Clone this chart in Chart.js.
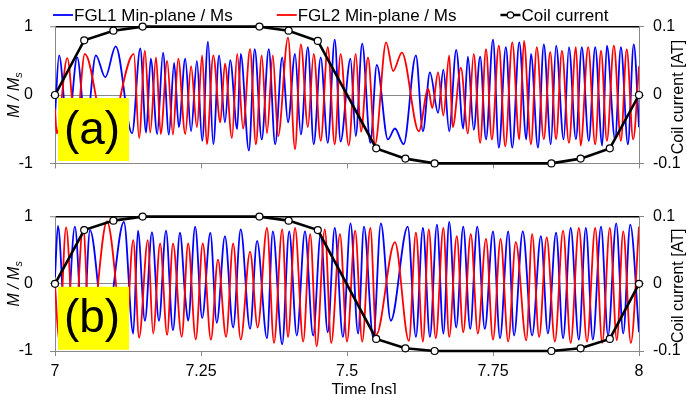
<!DOCTYPE html>
<html>
<head>
<meta charset="utf-8">
<script src="https://cdn.jsdelivr.net/npm/chart.js@4.4.1/dist/chart.umd.min.js"></script>
<style>
  html, body { margin: 0; padding: 0; background: #fff; }
  #wrap { position: relative; width: 687px; height: 394px; overflow: hidden; }
  canvas { position: absolute; left: 0; }
  #chartA { top: 0; }
  #chartB { top: 190px; }
</style>
</head>
<body>
<div id="wrap">
  <canvas id="chartA" width="687" height="190"></canvas>
  <canvas id="chartB" width="687" height="204"></canvas>
</div>
<script>
// Coil current (AT), same sampling in both panels
const coilT = [7, 7.05, 7.1, 7.15, 7.35, 7.4, 7.45, 7.55, 7.6, 7.65, 7.85, 7.9, 7.95, 8];
const coilA = [0, 0.080, 0.094, 0.1, 0.1, 0.094, 0.079, -0.078, -0.093, -0.1, -0.1, -0.093, -0.078, 0];
const coilB = [0, 0.080, 0.094, 0.1, 0.1, 0.094, 0.080, -0.082, -0.096, -0.1, -0.1, -0.096, -0.082, 0];

// Panel (a): turning points of M/Ms (time in ns)
const fgl1aT = [7.000, 7.007, 7.022, 7.038, 7.053, 7.070, 7.086, 7.104, 7.132, 7.146, 7.156, 7.164, 7.175, 7.185, 7.195, 7.204, 7.212, 7.223, 7.233, 7.243, 7.252, 7.262, 7.271, 7.281, 7.291, 7.300, 7.312, 7.318, 7.332, 7.342, 7.354, 7.366, 7.377, 7.389, 7.399, 7.411, 7.421, 7.433, 7.443, 7.455, 7.467, 7.479, 7.489, 7.506, 7.515, 7.526, 7.540, 7.551, 7.570, 7.582, 7.597, 7.618, 7.630, 7.642, 7.656, 7.665, 7.675, 7.687, 7.699, 7.707, 7.717, 7.728, 7.738, 7.750, 7.760, 7.772, 7.783, 7.795, 7.807, 7.815, 7.827, 7.837, 7.849, 7.858, 7.871, 7.880, 7.892, 7.902, 7.914, 7.925, 7.937, 7.945, 7.959, 7.969, 7.981, 7.991, 8.000];
const fgl1aM = [-0.30, 0.58, -0.55, 0.55, -0.50, 0.58, 0.26, 0.71, -0.56, 0.68, -0.55, 0.53, -0.57, 0.62, -0.58, 0.47, -0.47, 0.53, -0.53, 0.50, -0.67, 0.78, -0.72, 0.58, -0.40, 0.51, -0.50, 0.60, -0.81, 0.67, -0.65, 0.67, -0.72, 0.55, -0.40, 0.60, -0.58, 0.70, -0.72, 0.55, -0.70, 0.81, -0.68, 0.53, -0.60, 0.75, -0.70, 0.44, -0.65, -0.49, -0.72, 0.58, -0.53, 0.33, -0.26, 0.37, -0.53, 0.66, -0.49, 0.56, -0.51, 0.56, -0.65, 0.81, -0.77, 0.70, -0.77, 0.77, -0.65, 0.60, -0.77, 0.74, -0.72, 0.72, -0.65, 0.70, -0.65, 0.70, -0.67, 0.70, -0.74, 0.72, -0.65, 0.70, -0.72, 0.74, -0.47];

const fgl2aT = [7.000, 7.003, 7.021, 7.036, 7.051, 7.089, 7.135, 7.144, 7.154, 7.163, 7.173, 7.181, 7.192, 7.202, 7.211, 7.223, 7.233, 7.243, 7.252, 7.260, 7.271, 7.283, 7.291, 7.303, 7.312, 7.322, 7.334, 7.344, 7.354, 7.363, 7.373, 7.382, 7.399, 7.411, 7.421, 7.433, 7.443, 7.455, 7.467, 7.479, 7.489, 7.503, 7.515, 7.524, 7.536, 7.548, 7.567, 7.579, 7.594, 7.623, 7.639, 7.646, 7.656, 7.665, 7.675, 7.681, 7.695, 7.707, 7.717, 7.728, 7.738, 7.748, 7.760, 7.771, 7.783, 7.795, 7.803, 7.815, 7.825, 7.837, 7.848, 7.858, 7.868, 7.880, 7.892, 7.900, 7.913, 7.925, 7.935, 7.945, 7.957, 7.969, 7.979, 7.990, 8.000];
const fgl2aM = [-0.20, -0.56, 0.54, -0.55, 0.60, -0.65, 0.60, -0.63, 0.65, -0.55, 0.55, -0.57, 0.50, -0.58, 0.53, -0.57, 0.42, -0.47, 0.58, -0.72, 0.58, -0.40, 0.46, -0.63, 0.60, -0.49, 0.67, -0.72, 0.58, -0.56, 0.58, -0.60, 0.84, -0.79, 0.74, -0.47, 0.60, -0.67, 0.70, -0.72, 0.60, -0.74, 0.60, -0.54, 0.55, -0.72, 0.77, 0.35, 0.62, -0.53, 0.09, -0.19, 0.33, -0.30, 0.58, -0.47, 0.40, -0.56, 0.60, -0.70, 0.67, -0.65, 0.72, -0.75, 0.77, -0.65, 0.79, -0.72, 0.70, -0.65, 0.63, -0.65, 0.65, -0.70, 0.70, -0.74, 0.70, -0.72, 0.65, -0.67, 0.72, -0.67, 0.67, -0.65, 0.42];

// Panel (b)
const fgl1bT = [7.000, 7.005, 7.019, 7.034, 7.048, 7.060, 7.086, 7.118, 7.134, 7.142, 7.154, 7.166, 7.178, 7.190, 7.202, 7.214, 7.223, 7.228, 7.240, 7.252, 7.266, 7.277, 7.291, 7.305, 7.318, 7.334, 7.346, 7.363, 7.373, 7.389, 7.401, 7.414, 7.428, 7.442, 7.455, 7.467, 7.479, 7.493, 7.506, 7.519, 7.529, 7.545, 7.558, 7.575, 7.604, 7.618, 7.630, 7.642, 7.654, 7.665, 7.675, 7.687, 7.699, 7.711, 7.723, 7.736, 7.750, 7.762, 7.776, 7.786, 7.801, 7.817, 7.832, 7.844, 7.858, 7.870, 7.883, 7.897, 7.909, 7.921, 7.935, 7.947, 7.961, 7.973, 7.985, 8.000];
const fgl1bM = [0.10, 0.86, -0.80, 0.85, -0.80, 0.80, -0.75, 0.92, -0.74, 0.79, -0.55, 0.77, -0.55, 0.79, -0.69, 0.76, -0.20, -0.55, 0.85, -0.51, 0.76, -0.58, 0.71, -0.65, 0.81, -0.67, 0.64, -0.81, 0.78, -0.90, 0.78, -0.77, 0.78, -0.77, 0.74, -0.72, 0.83, -0.79, 0.90, -0.74, 0.85, -0.81, 0.90, -0.55, 0.85, -0.79, 0.83, -0.79, 0.88, -0.74, 0.92, -0.65, 0.85, -0.67, 0.85, -0.67, 0.78, -0.81, 0.78, -0.77, 0.78, -0.77, 0.71, -0.74, 0.76, -0.81, 0.83, -0.83, 0.83, -0.83, 0.85, -0.77, 0.90, -0.74, 0.88, -0.72];

const fgl2bT = [7.000, 7.007, 7.019, 7.033, 7.048, 7.060, 7.089, 7.120, 7.134, 7.144, 7.159, 7.168, 7.180, 7.192, 7.202, 7.217, 7.228, 7.241, 7.253, 7.267, 7.279, 7.293, 7.305, 7.318, 7.334, 7.347, 7.363, 7.375, 7.389, 7.399, 7.411, 7.425, 7.437, 7.448, 7.462, 7.473, 7.488, 7.500, 7.514, 7.526, 7.540, 7.550, 7.582, 7.606, 7.618, 7.630, 7.640, 7.652, 7.665, 7.675, 7.688, 7.699, 7.712, 7.724, 7.738, 7.750, 7.763, 7.776, 7.789, 7.807, 7.817, 7.829, 7.842, 7.856, 7.870, 7.883, 7.897, 7.911, 7.925, 7.937, 7.950, 7.962, 7.973, 7.986, 8.000];
const fgl2bM = [0.00, -0.85, 0.84, -0.85, 0.85, -0.80, 0.93, -0.95, 0.65, -0.80, 0.65, -0.74, 0.60, -0.76, 0.60, -0.79, 0.60, -0.83, 0.60, -0.83, 0.36, -0.79, 0.60, -0.83, 0.48, -0.65, 0.83, -0.88, 0.81, -0.79, 0.83, -0.86, 0.74, -0.93, 0.81, -0.88, 0.74, -0.86, 0.79, -0.86, 0.83, -0.76, 0.62, -0.85, 0.76, -0.86, 0.81, -0.81, 0.83, -0.79, 0.71, -0.72, 0.74, -0.74, 0.67, -0.83, 0.67, -0.86, 0.62, -0.84, 0.74, -0.79, 0.69, -0.86, 0.79, -0.88, 0.83, -0.86, 0.83, -0.88, 0.83, -0.84, 0.78, -0.88, 0.85];

const seriesLabels = ["FGL1 Min-plane / Ms", "FGL2 Min-plane / Ms", "Coil current"];

const FONT = '"Liberation Sans", Arial, sans-serif';
Chart.defaults.font.family = FONT;
Chart.defaults.font.size = 16;
Chart.defaults.color = "#000";

function pairs(ts, vs) {
    return ts.map((t, i) => ({ x: t, y: vs[i] }));
}

// yellow tag, axis titles and (for the top panel) the legend
function decorPlugin(tag, showLegend, showTime) {
    return {
        id: "decor",
        afterDatasetDraw(chart, args) {
            if (args.index !== 1) return;  // after the red trace, before coil current
            const ctx = chart.ctx;
            const area = chart.chartArea;
            const y0 = chart.scales.y.getPixelForValue(0);
            ctx.save();
            ctx.fillStyle = "#ffff00";
            ctx.fillRect(area.left + 3, y0 + 3, 71, 63);
            ctx.fillStyle = "#000";
            ctx.font = "46px " + FONT;
            ctx.textAlign = "center";
            ctx.textBaseline = "middle";
            ctx.fillText("(" + tag + ")", area.left + 37, y0 + 36);
            ctx.restore();
        },
        afterDraw(chart) {
            const ctx = chart.ctx;
            const y0 = chart.scales.y.getPixelForValue(0);

            // left title: M / Ms
            ctx.save();
            ctx.fillStyle = "#000";
            ctx.translate(15, y0);
            ctx.rotate(-Math.PI / 2);
            ctx.font = "italic 16px " + FONT;
            const main = "M / M";
            const w1 = ctx.measureText(main).width;
            ctx.font = "italic 11px " + FONT;
            const w2 = ctx.measureText("s").width;
            const x = -(w1 + w2) / 2;
            ctx.textBaseline = "middle";
            ctx.textAlign = "left";
            ctx.font = "italic 16px " + FONT;
            ctx.fillText(main, x, 0);
            ctx.font = "italic 11px " + FONT;
            ctx.fillText("s", x + w1, 4);
            ctx.restore();

            // right title
            ctx.save();
            ctx.fillStyle = "#000";
            ctx.translate(679, y0 + 2);
            ctx.rotate(-Math.PI / 2);
            ctx.font = "16px " + FONT;
            ctx.textAlign = "center";
            ctx.textBaseline = "middle";
            ctx.fillText("Coil current [AT]", 0, 0);
            ctx.restore();

            if (showTime) {
                ctx.save();
                ctx.fillStyle = "#000";
                ctx.font = "16px " + FONT;
                ctx.textAlign = "center";
                ctx.textBaseline = "alphabetic";
                ctx.fillText("Time [ns]", 364, 204.5);
                ctx.restore();
            }

            if (showLegend) {
                const colors = ["#0000ff", "#ff0000", "#000"];
                ctx.save();
                ctx.font = "17px " + FONT;
                ctx.textBaseline = "middle";
                ctx.textAlign = "left";
                let lx = 53;
                seriesLabels.forEach((label, i) => {
                    ctx.strokeStyle = colors[i];
                    ctx.lineWidth = i === 2 ? 2.5 : 1.8;
                    ctx.beginPath();
                    ctx.moveTo(lx, 15);
                    ctx.lineTo(lx + 20, 15);
                    ctx.stroke();
                    if (i === 2) {
                        ctx.beginPath();
                        ctx.arc(lx + 10, 15, 3.2, 0, Math.PI * 2);
                        ctx.fillStyle = "#fff";
                        ctx.fill();
                        ctx.lineWidth = 1.2;
                        ctx.stroke();
                    }
                    ctx.fillStyle = "#000";
                    ctx.fillText(label, lx + 21, 16);
                    lx += 21 + ctx.measureText(label).width + 44;
                });
                ctx.restore();
            }
        }
    };
}

function buildPanel(id, cfg) {
    return new Chart(document.getElementById(id), {
        type: "line",
        data: {
            datasets: [
                {
                    label: seriesLabels[2],
                    data: pairs(coilT, cfg.coil),
                    yAxisID: "y1",
                    borderColor: "#000",
                    borderWidth: 2.6,
                    pointRadius: 3.5,
                    pointBackgroundColor: "#fff",
                    pointBorderColor: "#000",
                    pointBorderWidth: 1.2,
                    tension: 0,
                    clip: false,
                    order: 0
                },
                {
                    label: seriesLabels[1],
                    data: pairs(cfg.t2, cfg.m2),
                    yAxisID: "y",
                    borderColor: "#ff0000",
                    borderWidth: 1.8,
                    pointRadius: 0,
                    cubicInterpolationMode: "monotone",
                    order: 1
                },
                {
                    label: seriesLabels[0],
                    data: pairs(cfg.t1, cfg.m1),
                    yAxisID: "y",
                    borderColor: "#0000ff",
                    borderWidth: 1.8,
                    pointRadius: 0,
                    cubicInterpolationMode: "monotone",
                    order: 2
                }
            ]
        },
        options: {
            responsive: false,
            animation: false,
            events: [],
            layout: { padding: { top: cfg.padTop, left: 0, right: 0, bottom: 0 } },
            plugins: { legend: { display: false }, tooltip: { enabled: false } },
            scales: {
                x: {
                    type: "linear",
                    min: 7,
                    max: 8,
                    afterFit: s => { s.height = cfg.xHeight; },
                    grid: { drawOnChartArea: false, drawTicks: true, tickLength: 5, color: "#888" },
                    border: { color: "#888", width: 1 },
                    ticks: {
                        display: cfg.showX,
                        stepSize: 0.25,
                        padding: 6,
                        maxRotation: 0,
                        callback: v => String(v)
                    }
                },
                y: {
                    position: "left",
                    min: -1,
                    max: 1,
                    afterFit: s => { s.width = 55; },
                    grid: {
                        color: c => (c.tick && c.tick.value === 1 ? "#000" : "#888"),
                        lineWidth: c => (c.tick && c.tick.value === 1 ? 1.5 : 1),
                        tickColor: "#888",
                        tickWidth: 1,
                        tickLength: 5
                    },
                    border: { color: "#888", width: 1 },
                    ticks: { stepSize: 1, padding: 17 }
                },
                y1: {
                    position: "right",
                    min: -0.1,
                    max: 0.1,
                    afterFit: s => { s.width = 48; },
                    grid: { drawOnChartArea: false, tickLength: 5, color: "#888" },
                    border: { color: "#888", width: 1 },
                    ticks: {
                        stepSize: 0.1,
                        padding: 9,
                        callback: v => (Math.abs(v) < 1e-9 ? "0" : v.toFixed(1))
                    }
                }
            }
        },
        plugins: [decorPlugin(cfg.tag, cfg.legend, cfg.showX)]
    });
}

buildPanel("chartA", {
    tag: "a", legend: true, showX: false, padTop: 25, xHeight: 23,
    coil: coilA, t1: fgl1aT, m1: fgl1aM, t2: fgl2aT, m2: fgl2aM
});

buildPanel("chartB", {
    tag: "b", legend: false, showX: true, padTop: 18, xHeight: 43,
    coil: coilB, t1: fgl1bT, m1: fgl1bM, t2: fgl2bT, m2: fgl2bM
});
</script>
</body>
</html>
